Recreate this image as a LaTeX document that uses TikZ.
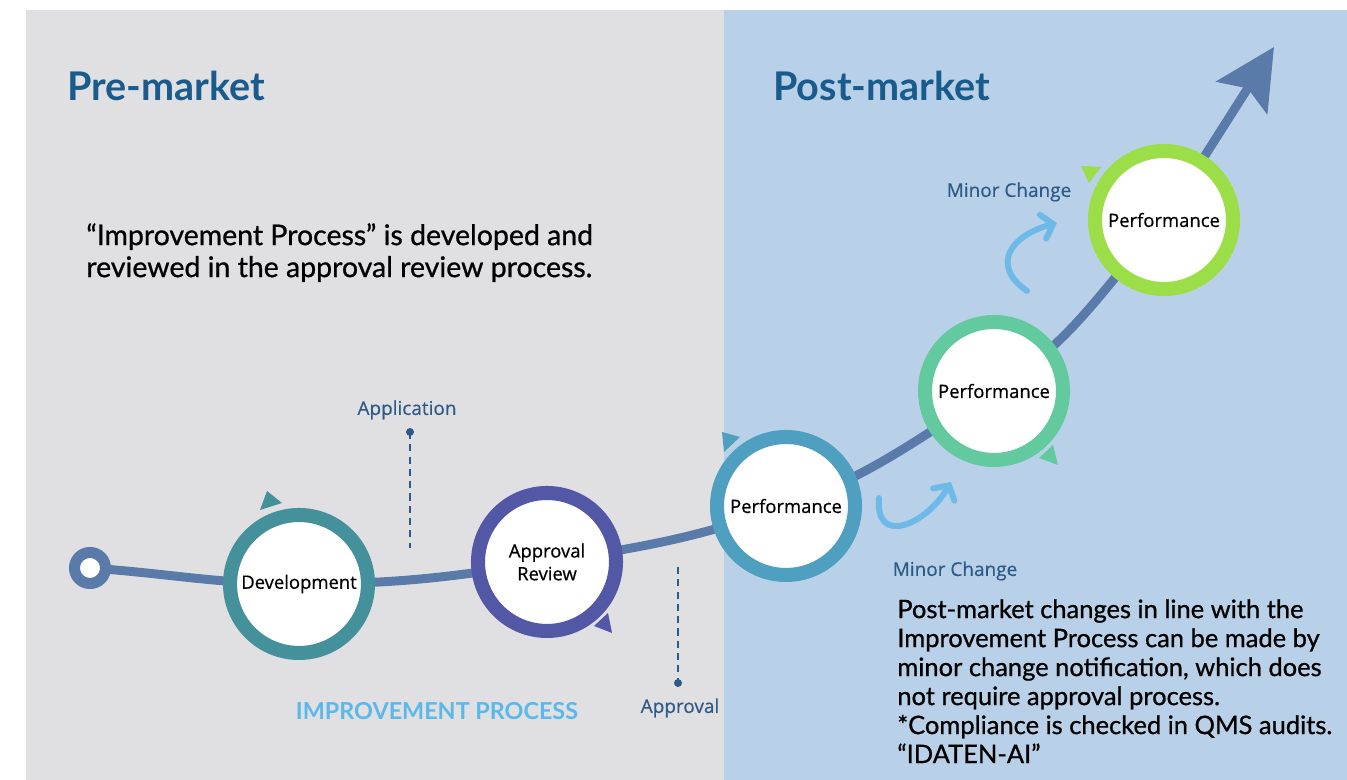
\documentclass[tikz,border=0pt]{standalone}
\usepackage{fontspec}
\setmainfont{Lato}
\newfontfamily\bodyfont[FakeBold=0.8]{Lato}
\newfontfamily\labelfont[FakeBold=0.4]{Open Sans}
\newfontfamily\stagefont[FakeBold=0.6]{Open Sans}
\usetikzlibrary{arrows.meta}
\pgfdeclarelayer{bg}
\pgfsetlayers{bg,main}

\definecolor{premarket}{HTML}{E0E0E3}
\definecolor{postmarket}{HTML}{B9D1E8}
\definecolor{headblue}{HTML}{195B8C}
\definecolor{trailblue}{HTML}{5A7AAA}
\definecolor{tagblue}{HTML}{2E5A88}
\definecolor{minorblue}{HTML}{6DB9E8}
\definecolor{processblue}{HTML}{5BB8EA}
\definecolor{devteal}{HTML}{45919B}
\definecolor{reviewindigo}{HTML}{5257A6}
\definecolor{perfcyan}{HTML}{4FA0C0}
\definecolor{perfmint}{HTML}{62CA9E}
\definecolor{perflime}{HTML}{9BDE48}

\tikzset{
  stage/.style={circle,draw=#1,line width=8pt,fill=white,minimum size=2.76cm,
    inner sep=0pt,align=center,font=\stagefont\fontsize{10.5}{13}\selectfont},
  trail/.style={draw=trailblue,line width=5.1pt},
  minor/.style={draw=minorblue,line width=3.4pt,line cap=round,
    -{Straight Barb[length=6pt,width=14pt,line cap=round]}},
  tag/.style={text=tagblue,font=\labelfont\fontsize{10.8}{12}\selectfont},
  guide/.style={draw=tagblue,line width=1pt,dash pattern=on 4pt off 3pt},
  headline/.style={text=headblue,inner sep=0pt,font=\bfseries\fontsize{22.5}{26}\selectfont}
}

\begin{document}
\begin{tikzpicture}[x=0.02cm,y=0.02cm]
\useasboundingbox (0,0) rectangle (1347,780);
\begin{pgfonlayer}{bg}
\fill[premarket] (26,0) rectangle (724,770);
\fill[postmarket] (724,0) rectangle (1347,770);
\end{pgfonlayer}

\node[anchor=base west,headline] (pre) at (67,679) {Pre-market};
\node[anchor=base west,headline] (post) at (773,679) {Post-market};

\node[anchor=north west,inner sep=0pt,align=left,
  font=\bodyfont\fontsize{16.2}{18.2}\selectfont] (intro) at (86,557)
  {“Improvement Process” is developed and\\reviewed in the approval review process.};

% stages along the curve
\node[circle,draw=trailblue,line width=6.3pt,fill=white,minimum size=0.62cm,inner sep=0pt] (start) at (90,212) {};
\node[stage=devteal] (dev) at (299,196) {Development};
\node[stage=reviewindigo] (review) at (547,218) {Approval\\Review};
\node[stage=perfcyan] (perfa) at (786,274) {Performance};
\node[stage=perfmint] (perfb) at (994,389) {Performance};
\node[stage=perflime] (perfc) at (1164,560) {Performance};
\coordinate (tip) at (1274,733);

\begin{pgfonlayer}{bg}
\draw[trail] (start.center) to[out=-4,in=180] (dev.center)
  to[out=0,in=189] (review.center)
  to[out=9,in=200] (perfa.center)
  to[out=20,in=212] (perfb.center)
  to[out=32,in=228] (perfc.center);
\end{pgfonlayer}
\draw[trail,-{Stealth[length=1.2cm,width=1.2cm,inset=0.22cm]}] (perfc) -- (tip);

% small turn marks
\fill[devteal] (260,270) -- (267,289) -- (282,277) -- cycle;
\fill[reviewindigo] (594,154) -- (608,167) -- (612,147) -- cycle;
\fill[perfcyan] (722,348) -- (740,343) -- (724,328) -- cycle;
\fill[perfmint] (1039,322) -- (1053,335) -- (1058,315) -- cycle;
\fill[perflime] (1081,614) -- (1101,613) -- (1089,597) -- cycle;

% milestones
\node[tag] (application) at (407,370) {Application};
\coordinate (appdot) at (410,348);
\coordinate (append) at (410,232);
\fill[tagblue] (appdot) circle (4);
\draw[guide] (appdot) -- (append);

\node[tag] (approval) at (680,72) {Approval};
\coordinate (aprdot) at (678,97);
\coordinate (aprtop) at (678,213);
\fill[tagblue] (aprdot) circle (4);
\draw[guide] (aprtop) -- (aprdot);

\node[text=processblue,font=\bfseries\fontsize{13.3}{15}\selectfont] (process) at (437,69) {IMPROVEMENT PROCESS};

% minor changes
\coordinate (minorafrom) at (879,282);
\coordinate (minorato) at (951,298);
\draw[minor] (minorafrom) to[out=-95,in=-120,looseness=1.7] (minorato);
\node[tag] (minora) at (955,209) {Minor Change};

\coordinate (minorbfrom) at (1027,489);
\coordinate (minorbto) at (1057,557);
\draw[minor] (minorbfrom) to[out=145,in=195,looseness=1.6] (minorbto);
\node[tag] (minorb) at (1009,588) {Minor Change};

\node[anchor=north west,inner sep=0pt,align=left,
  font=\bodyfont\fontsize{14.5}{16.5}\selectfont] (notice) at (897,181)
  {Post-market changes in line with the\\Improvement Process can be made by\\minor change notification, which does\\not require approval process.\\*Compliance is checked in QMS audits.\\“IDATEN-AI”};
\end{tikzpicture}
\end{document}
